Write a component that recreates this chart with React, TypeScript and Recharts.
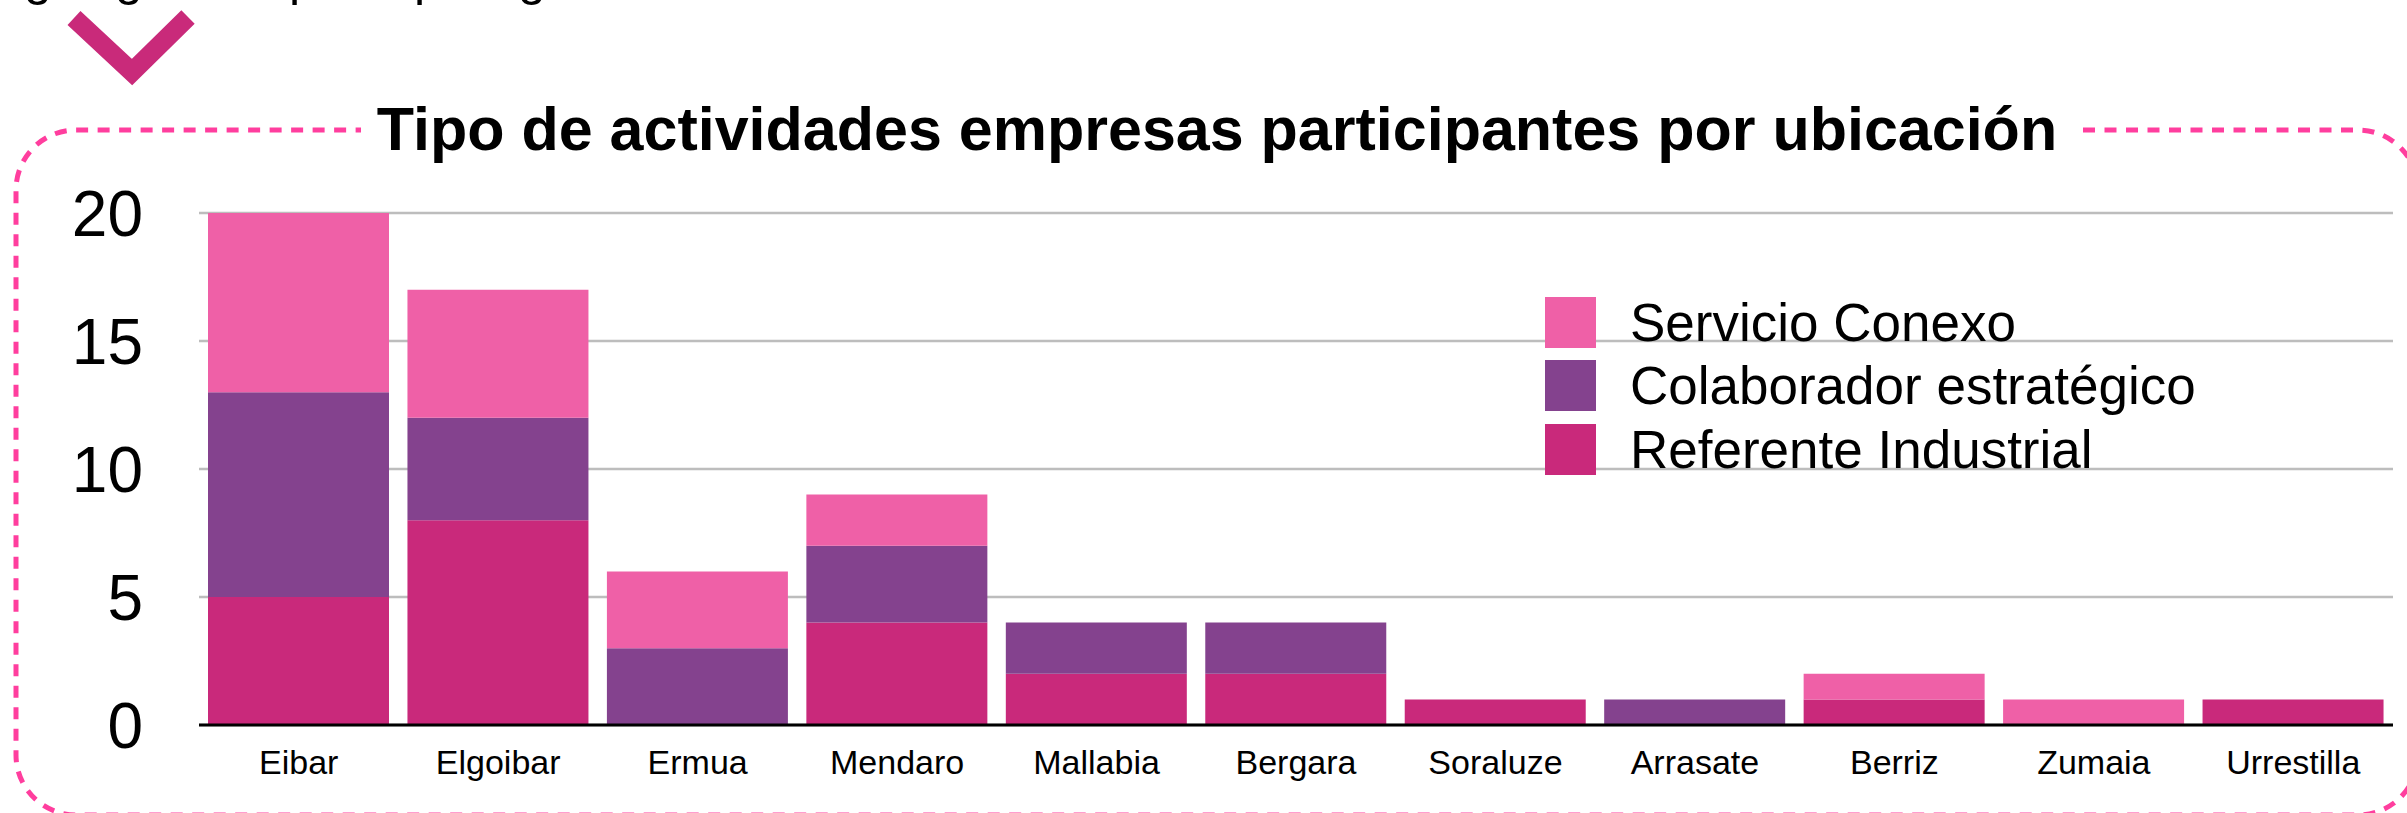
import React from 'react';
import { BarChart, Bar, XAxis, YAxis, CartesianGrid, Legend } from 'recharts';

const categories = ['Eibar', 'Elgoibar', 'Ermua', 'Mendaro', 'Mallabia', 'Bergara', 'Soraluze', 'Arrasate', 'Berriz', 'Zumaia', 'Urrestilla'];
const referenteIndustrial = [5, 8, 0, 4, 2, 2, 1, 0, 1, 0, 1];
const colaboradorEstrategico = [8, 4, 3, 3, 2, 2, 0, 1, 0, 0, 0];
const servicioConexo = [7, 5, 3, 2, 0, 0, 0, 0, 1, 1, 0];
const yTicks = [0, 5, 10, 15, 20];

const seriesNames = {
  referente: 'Referente Industrial',
  colaborador: 'Colaborador estratégico',
  servicio: 'Servicio Conexo',
};
const seriesColors = {
  referente: '#C9297B',
  colaborador: '#84428E',
  servicio: '#EF60A7',
};
const legendOrder: Array<keyof typeof seriesNames> = ['servicio', 'colaborador', 'referente'];

const title = 'Tipo de actividades empresas participantes por ubicación';

const FONT = '"Liberation Sans", Arial, Helvetica, sans-serif';

const data = categories.map((name, i) => ({
  name,
  referente: referenteIndustrial[i],
  colaborador: colaboradorEstrategico[i],
  servicio: servicioConexo[i],
}));

const LegendContent = () => (
  <div style={{ fontFamily: FONT, fontSize: 53, color: '#000', lineHeight: 1 }}>
    {legendOrder.map((k) => (
      <div key={k} style={{ display: 'flex', alignItems: 'center', height: 63.3 }}>
        <div style={{ width: 51, height: 51, background: seriesColors[k], marginRight: 34, flex: '0 0 auto' }} />
        <span style={{ whiteSpace: 'nowrap' }}>{seriesNames[k]}</span>
      </div>
    ))}
  </div>
);

export default function App() {
  return (
    <div style={{ position: 'absolute', left: 0, top: 0, width: 2407, height: 813, background: '#fff', overflow: 'hidden' }}>
      <BarChart
        width={2407}
        height={813}
        data={data}
        margin={{ top: 213, right: 14, bottom: 0, left: 0 }}
        barCategoryGap={9}
      >
        <CartesianGrid vertical={false} stroke="#bdbdbd" strokeWidth={2.5} />
        <XAxis
          dataKey="name"
          height={88}
          interval={0}
          tickLine={false}
          tickSize={0}
          tickMargin={25}
          axisLine={{ stroke: '#000', strokeWidth: 3 }}
          tick={{ fontSize: 34, fill: '#000', fontFamily: FONT }}
        />
        <YAxis
          width={199}
          domain={[0, 20]}
          ticks={yTicks}
          interval={0}
          axisLine={false}
          tickLine={false}
          tickSize={0}
          tickMargin={56}
          tick={{ fontSize: 64, fill: '#000', fontFamily: FONT }}
        />
        <Legend
          layout="vertical"
          align="center"
          verticalAlign="middle"
          wrapperStyle={{ left: 1545, top: 291, width: 'auto', height: 'auto' }}
          content={LegendContent}
        />
        <Bar dataKey="referente" name={seriesNames.referente} stackId="s" fill={seriesColors.referente} isAnimationActive={false} />
        <Bar dataKey="colaborador" name={seriesNames.colaborador} stackId="s" fill={seriesColors.colaborador} isAnimationActive={false} />
        <Bar dataKey="servicio" name={seriesNames.servicio} stackId="s" fill={seriesColors.servicio} isAnimationActive={false} />
      </BarChart>
      <svg
        width={2407}
        height={813}
        style={{ position: 'absolute', left: 0, top: 0, pointerEvents: 'none' }}
      >
        <text y={-5} fontFamily={FONT} fontSize={50} fill="#000">
          <tspan x={24}>g</tspan>
          <tspan x={115}>g</tspan>
          <tspan x={289}>p</tspan>
          <tspan x={414}>p</tspan>
          <tspan x={518}>g</tspan>
        </text>
        <path
          d="M 74 18 L 132 72 L 188 17"
          fill="none"
          stroke="#C92A7A"
          strokeWidth={19}
          strokeLinejoin="miter"
        />
        <path
          d="M 2083 130 L 2358 130 A 60 60 0 0 1 2418 190 L 2418 755 A 60 60 0 0 1 2358 815 L 76 815 A 60 60 0 0 1 16 755 L 16 190 A 60 60 0 0 1 76 130 L 361 130"
          fill="none"
          stroke="#FF3E9E"
          strokeWidth={5}
          strokeDasharray="12 9.5"
        />
        <text x={1217} y={150} textAnchor="middle" fontFamily={FONT} fontWeight="bold" fontSize={61} fill="#000">
          {title}
        </text>
      </svg>
    </div>
  );
}
